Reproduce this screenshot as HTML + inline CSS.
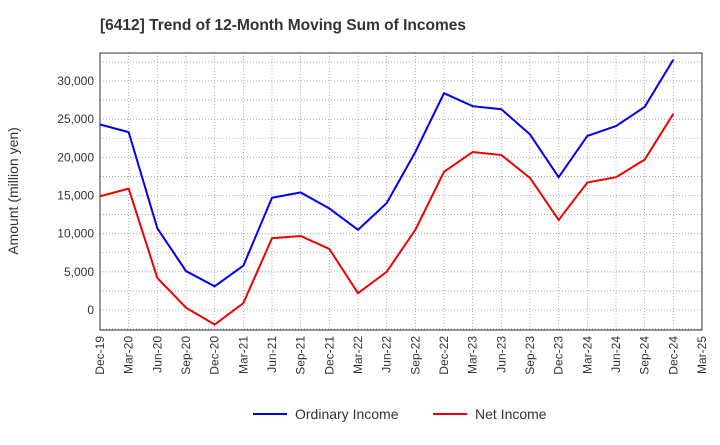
<!DOCTYPE html>
<html><head><meta charset="utf-8"><style>
body{margin:0;background:#fff;font-family:"Liberation Sans",sans-serif;}
</style></head><body>
<svg id="chart" width="720" height="440" xmlns="http://www.w3.org/2000/svg" font-family="Liberation Sans, sans-serif">
<text x="100" y="30" font-size="15.5" font-weight="bold" fill="#333">[6412]  Trend of 12-Month Moving Sum of Incomes</text>
<text transform="translate(18,191) rotate(-90)" text-anchor="middle" font-size="14" fill="#333">Amount (million yen)</text>
<g id="grid"></g><g id="axes"></g><g id="series"></g>
<g>
<line x1="253" y1="414" x2="287" y2="414" stroke="#0000ee" stroke-width="2"/>
<text x="295" y="419" font-size="14" fill="#333">Ordinary Income</text>
<line x1="433" y1="414" x2="467" y2="414" stroke="#ee0000" stroke-width="2"/>
<text x="475" y="419" font-size="14" fill="#333">Net Income</text>
</g>
</svg>
<script>
const categories=["Dec-19","Mar-20","Jun-20","Sep-20","Dec-20","Mar-21","Jun-21","Sep-21","Dec-21","Mar-22","Jun-22","Sep-22","Dec-22","Mar-23","Jun-23","Sep-23","Dec-23","Mar-24","Jun-24","Sep-24","Dec-24","Mar-25"];
const ordinaryIncome=[24300,23300,10700,5100,3100,5800,14700,15400,13300,10500,14000,20700,28400,26700,26300,23000,17400,22800,24100,26600,32800];
const netIncome=[14900,15900,4200,300,-1900,900,9400,9700,8000,2200,5000,10500,18100,20700,20300,17300,11800,16700,17400,19700,25700];
const yTicks=[0,5000,10000,15000,20000,25000,30000];
const L=100,R=702,T=53,B=330;
const x=i=>L+i*(R-L)/(categories.length-1);
const y=v=>310-v*(229/30000);
const NS="http://www.w3.org/2000/svg";
function mk(t,a,p){const e=document.createElementNS(NS,t);for(const k in a)e.setAttribute(k,a[k]);p.appendChild(e);return e;}
const g=document.getElementById('grid'),ax=document.getElementById('axes'),s=document.getElementById('series');
for(let v=-2500;v<=32500;v+=2500){const l=mk('line',{x1:L,x2:R,y1:y(v),y2:y(v),stroke:'#999','stroke-width':0.8,'stroke-dasharray':'1,2'},g);

}
categories.forEach((c,i)=>{const l=mk('line',{x1:x(i),x2:x(i),y1:T,y2:B,stroke:'#999','stroke-width':0.8,'stroke-dasharray':'1,2'},g);


const t=mk('text',{transform:`translate(${x(i)+4},${B+6}) rotate(-90)`,'text-anchor':'end','font-size':12,fill:'#333'},ax);t.textContent=c;

});
yTicks.forEach(v=>{const t=mk('text',{x:L-6,y:y(v)+4,'text-anchor':'end','font-size':12,fill:'#333'},ax);t.textContent=v.toLocaleString('en-US');

});
const fr=mk('rect',{x:L,y:T,width:R-L,height:B-T,fill:'none',stroke:'#333','stroke-width':1},ax);


function line(d,col,name){const p=mk('polyline',{points:d.map((v,i)=>x(i)+','+y(v)).join(' '),fill:'none',stroke:col,'stroke-width':2},s);

}
line(ordinaryIncome,'#0000ee','ordinary-income-line');
line(netIncome,'#ee0000','net-income-line');
</script>
</body></html>
